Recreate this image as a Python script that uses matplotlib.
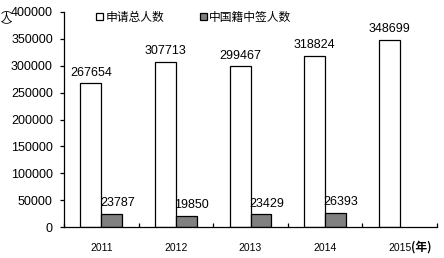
import matplotlib
matplotlib.use("Agg")
import matplotlib.pyplot as plt
import numpy as np

plt.rcParams['font.family'] = ['Liberation Sans', 'Noto Sans CJK SC', 'DejaVu Sans']

years = ['2011', '2012', '2013', '2014', '2015']
applicants = [267654, 307713, 299467, 318824, 348699]
chinese_winners = [23787, 19850, 23429, 26393, None]
series_names = ['申请总人数', '中国籍中签人数']

fig = plt.figure(figsize=(4.44, 2.58), dpi=100)
ax = fig.add_axes([64/444, 1-227/258, (437-64)/444, (227-12)/258])

x = np.arange(len(years))
w = 0.28
ax.bar(x - w/2, applicants, width=w, color='white', edgecolor='black', linewidth=0.9, label=series_names[0])
xs2 = np.array([xi for xi, v in zip(x, chinese_winners) if v is not None])
vs2 = [v for v in chinese_winners if v is not None]
ax.bar(xs2 + w/2, vs2, width=w, color='#808080', edgecolor='black', linewidth=0.9, label=series_names[1])

for xi, v in zip(x, applicants):
    ax.annotate(str(v), (xi - w/2, v), xytext=(0, 3), textcoords='offset points',
                ha='center', va='bottom', fontsize=9)
for xi, v in zip(xs2, vs2):
    ax.annotate(str(v), (xi + w/2, v), xytext=(4, 3.5), textcoords='offset points',
                ha='center', va='bottom', fontsize=9)

ax.set_xlim(-0.5, len(years) - 0.5)
ax.set_ylim(0, 400000)
yt = np.arange(0, 400001, 50000)
ax.set_yticks(yt)
ax.set_yticklabels([str(v) for v in yt], fontsize=9)
ax.tick_params(axis='y', direction='out', length=3, width=0.9, pad=5)

ax.set_xticks(np.arange(-0.5, len(years), 1))
ax.set_xticklabels([])
ax.tick_params(axis='x', direction='in', length=3, width=0.9)
for xi, y in zip(x, years):
    ax.text(xi, -16/215, y, transform=ax.get_xaxis_transform(), ha='center', va='top', fontsize=7.5)
ax.text(x[-1] + 0.15, -20/215, '(年)', transform=ax.get_xaxis_transform(), ha='left', va='center',
        fontsize=8.5, fontweight='bold', family=['Noto Sans CJK SC'])

ax.spines['top'].set_visible(False)
ax.spines['right'].set_visible(False)
ax.spines['left'].set_linewidth(0.9)
ax.spines['bottom'].set_linewidth(0.9)

fig.text(6/444, 1-18/258, '︵\n人\n︶', ha='center', va='center', fontsize=8,
         family=['Noto Sans CJK SC'], linespacing=0.8)

ax.legend(loc='center left', bbox_to_anchor=(96/444, 1-17/258), bbox_transform=fig.transFigure,
          ncol=2, frameon=False, borderpad=0, borderaxespad=0,
          prop={'family': ['Noto Sans CJK SC'], 'size': 8.5}, handlelength=0.6, handleheight=0.6,
          handletextpad=0.2, columnspacing=3.0)

fig.savefig('out.png', dpi=100)
